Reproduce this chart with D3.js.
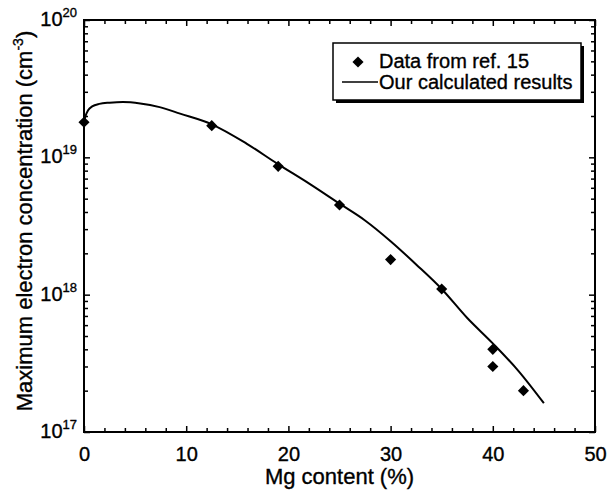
<!DOCTYPE html>
<meta charset="utf-8">
<head>
<style>
  body { margin: 0; background: #fff; }
  text { font-family: "Liberation Sans", Arial, sans-serif; fill: #000; stroke: #000; stroke-width: 0.35px; }
</style>
</head>
<script src="https://d3js.org/d3.v7.min.js"></script>
<body>
<div id="my_dataviz"></div>
</body>
<script>

    // measured points (data from ref. 15)
    var mgData = [0, 12.5, 19, 25, 30, 35, 40, 40, 43];
    var nData = [1.8e19, 1.7e19, 8.6e18, 4.5e18, 1.8e18, 1.1e18, 4.0e17, 3.0e17, 2.0e17];

    // calculated curve
    var mgCalc = [0, 0.15, 0.4, 0.8, 1.5, 2.5, 3.8, 5.5, 7.4, 9.4, 12.5, 15.9, 18.9, 22, 25, 27.5, 30, 32.5, 35, 37.5, 40, 42.5, 45];
    var nCalc = [1.8e19, 2.0e19, 2.2e19, 2.35e19, 2.45e19, 2.5e19, 2.53e19, 2.47e19, 2.32e19, 2.08e19, 1.74e19, 1.26e19, 9.0e18,
                 6.46e18, 4.6e18, 3.47e18, 2.45e18, 1.66e18, 1.1e18, 6.76e17, 4.42e17, 2.79e17, 1.62e17];

    var xMajor = [0, 10, 20, 30, 40, 50];
    var xMinor = [2, 4, 6, 8, 12, 14, 16, 18, 22, 24, 26, 28, 32, 34, 36, 38, 42, 44, 46, 48];
    var yExp = [17, 18, 19, 20];

    var legendLabels = ["Data from ref. 15", "Our calculated results"];

    var margin = {top: 20, right: 12, bottom: 61, left: 84},
        width = 607 - margin.left - margin.right,
        height = 493 - margin.top - margin.bottom;

    var svg = d3.select("#my_dataviz")
      .append("svg")
        .attr("width", 607)
        .attr("height", 493)
      .append("g")
        .attr("transform", "translate(" + margin.left + "," + margin.top + ")");

    var x = d3.scaleLinear().domain([0, 50]).range([0, width]);
    var y = d3.scaleLog().domain([1e17, 1e20]).range([height, 0]);

    var yMajor = yExp.map(function(e) { return Math.pow(10, e); });
    var yMinor = [];
    yExp.slice(0, 3).forEach(function(e) {
        for (var k = 2; k <= 9; k++) yMinor.push(k * Math.pow(10, e));
    });

    function tickStyle(g) {
        g.select(".domain").remove();
        g.selectAll("line").attr("stroke", "#000").attr("stroke-width", 1.5);
    }

    // bottom axis - ticks point inward
    svg.append("g")
        .attr("transform", "translate(0," + height + ")")
        .call(d3.axisBottom(x).tickValues(xMinor).tickSize(-4).tickFormat(""))
        .call(tickStyle);
    svg.append("g")
        .attr("transform", "translate(0," + height + ")")
        .call(d3.axisBottom(x).tickValues(xMajor).tickSize(-6).tickPadding(14).tickFormat(d3.format("d")))
        .call(tickStyle)
        .selectAll("text").style("font-size", "20px").attr("dy", "0.75em");

    // top axis
    svg.append("g")
        .call(d3.axisTop(x).tickValues(xMinor).tickSize(-4).tickFormat(""))
        .call(tickStyle);
    svg.append("g")
        .call(d3.axisTop(x).tickValues(xMajor).tickSize(-6).tickFormat(""))
        .call(tickStyle);

    // left axis
    svg.append("g")
        .call(d3.axisLeft(y).tickValues(yMinor).tickSize(-4).tickFormat(""))
        .call(tickStyle);
    svg.append("g")
        .call(d3.axisLeft(y).tickValues(yMajor).tickSize(-6).tickFormat(""))
        .call(tickStyle);

    // right axis
    svg.append("g")
        .attr("transform", "translate(" + width + ",0)")
        .call(d3.axisRight(y).tickValues(yMinor).tickSize(-4).tickFormat(""))
        .call(tickStyle);
    svg.append("g")
        .attr("transform", "translate(" + width + ",0)")
        .call(d3.axisRight(y).tickValues(yMajor).tickSize(-6).tickFormat(""))
        .call(tickStyle);

    // log tick labels 10^n
    yExp.forEach(function(e) {
        var t = svg.append("text")
            .attr("x", -7)
            .attr("y", y(Math.pow(10, e)) + 6)
            .attr("text-anchor", "end")
            .style("font-size", "20px");
        t.append("tspan").text("10");
        t.append("tspan").attr("dy", -9).style("font-size", "13px").text(e);
    });

    // frame
    svg.append("rect")
        .attr("width", width).attr("height", height)
        .attr("fill", "none").attr("stroke", "#000").attr("stroke-width", 2);

    // axis titles
    svg.append("text")
        .attr("x", width / 2)
        .attr("y", height + 52)
        .attr("text-anchor", "middle")
        .style("font-size", "22px")
        .text("Mg content (%)");

    var yt = svg.append("text")
        .attr("transform", "translate(" + (-margin.left + 32) + "," + (height / 2 - 5) + ") rotate(-90)")
        .attr("text-anchor", "middle")
        .style("font-size", "22px");
    yt.append("tspan").text("Maximum electron concentration (cm");
    yt.append("tspan").attr("dy", -9).style("font-size", "14px").text("-3");
    yt.append("tspan").attr("dy", 9).text(")");

    // calculated curve
    var calc = mgCalc.map(function(v, i) { return [v, nCalc[i]]; });
    svg.append("path")
        .datum(calc)
        .attr("fill", "none")
        .attr("stroke", "#000")
        .attr("stroke-width", 2)
        .attr("d", d3.line()
            .curve(d3.curveMonotoneX)
            .x(function(d) { return x(d[0]); })
            .y(function(d) { return y(d[1]); }));

    // data points as diamonds
    var diamond = d3.symbol().type(d3.symbolSquare).size(62);
    svg.append("g")
        .selectAll("path")
        .data(mgData)
        .enter()
        .append("path")
          .attr("d", diamond)
          .attr("transform", function(d, i) {
              return "translate(" + x(d) + "," + y(nData[i]) + ") rotate(45)";
          })
          .attr("fill", "#000");

    // legend with drop shadow
    var lg = svg.append("g").attr("transform", "translate(" + (333 - margin.left) + "," + (43 - margin.top) + ")");
    lg.append("rect").attr("x", 3).attr("y", 3).attr("width", 248).attr("height", 57).attr("fill", "#000");
    lg.append("rect").attr("width", 248).attr("height", 57).attr("fill", "#fff").attr("stroke", "#000").attr("stroke-width", 1.5);
    lg.append("path")
        .attr("d", diamond)
        .attr("transform", "translate(25,19) rotate(45)")
        .attr("fill", "#000");
    lg.append("line")
        .attr("x1", 9).attr("x2", 45).attr("y1", 39).attr("y2", 39)
        .attr("stroke", "#000").attr("stroke-width", 1.5);
    lg.selectAll("text.leg")
        .data(legendLabels)
        .enter()
        .append("text")
          .attr("class", "leg")
          .attr("x", 46)
          .attr("y", function(d, i) { return 25 + i * 21; })
          .style("font-size", "20px")
          .text(function(d) { return d; });

</script>
